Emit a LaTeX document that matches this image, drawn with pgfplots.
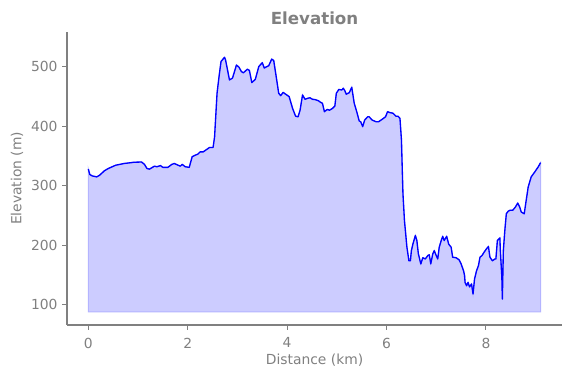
\documentclass[border=0pt]{standalone}
\usepackage{fontspec}
\setmainfont{DejaVu Sans}
\usepackage{pgfplots}
\pgfplotsset{compat=1.18}
\definecolor{txtgray}{RGB}{128,128,128}
\definecolor{fillc}{RGB}{204,204,255}
\definecolor{edgec}{RGB}{180,180,255}
\definecolor{linec}{RGB}{0,0,255}
\begin{document}
\begin{tikzpicture}
\begin{axis}[
  at={(50.25pt,39.75pt)}, anchor=south west,
  scale only axis, width=371.25pt, height=219.5pt,
  xmin=-0.429, xmax=9.53, ymin=66, ymax=558,
  axis x line*=bottom, axis y line*=left,
  axis line style={txtgray, line width=0.8pt, -},
  xtick={0,2,4,6,8}, ytick={100,200,300,400,500},
  tick align=outside, major tick length=3.6pt,
  tick style={txtgray, line width=0.8pt},
  ticklabel style={font=\fontsize{10.4}{12}\selectfont, text=txtgray},
  xticklabel style={yshift=-2.5pt},
  /pgf/number format/assume math mode=true,
]
\addplot[fill=fillc, draw=edgec, line width=0.8pt] coordinates {
(0,88)
(0,328) (0.03,319) (0.08,316.6) (0.17,315) (0.23,318) (0.32,325) (0.40,329) (0.55,334.6) (0.72,337.5) (0.82,338.5) (0.92,339.6) (1.07,340) (1.13,336) (1.18,329) (1.23,328) (1.33,333) (1.38,332) (1.45,334) (1.50,331) (1.60,331) (1.68,336) (1.73,337.5)
(1.85,333) (1.89,336) (1.95,332) (2.03,331) (2.09,349) (2.15,351.5) (2.20,353) (2.25,357) (2.31,357) (2.38,361) (2.44,364.5) (2.51,364.5) (2.54,382) (2.59,455.6) (2.63,483.7) (2.67,509) (2.74,516) (2.76,512) (2.80,495) (2.84,478) (2.90,481) (2.93,489) (2.98,503) (3.03,499.5) (3.08,492) (3.12,490)
(3.20,496) (3.24,494) (3.29,473.5) (3.36,479) (3.43,500.5) (3.50,507) (3.54,498) (3.63,502) (3.69,513) (3.73,510.6) (3.79,478) (3.83,455.6) (3.87,451.6) (3.92,457) (3.97,454) (4.04,450) (4.11,430) (4.17,417) (4.22,416) (4.26,427) (4.31,452.7) (4.36,445.4) (4.41,447) (4.46,448) (4.51,445.4) (4.56,445) (4.63,443)
(4.66,441) (4.71,438.7) (4.75,424.6) (4.81,428.5) (4.85,427) (4.91,430) (4.96,434) (4.99,455.6) (5.04,462) (5.10,461) (5.13,464) (5.16,460) (5.19,454) (5.25,456.6) (5.30,465.7) (5.35,438.7) (5.40,424.6) (5.45,409) (5.48,407.7) (5.52,399.5) (5.56,410.5) (5.62,416) (5.65,416) (5.71,410.5) (5.79,407.7) (5.84,407.7) (5.91,411.7) (5.98,416) (6.02,424.6) (6.07,423) (6.13,422) (6.19,417)
(6.23,417) (6.27,413.4) (6.30,377) (6.33,287) (6.36,242) (6.41,196.7) (6.45,174) (6.48,174) (6.50,191) (6.53,202) (6.58,216.5) (6.61,208) (6.64,185.6) (6.69,168.7) (6.73,179) (6.78,177) (6.83,182.7) (6.86,184) (6.89,168.7) (6.93,185.6) (6.96,191) (7.00,182.7) (7.03,177) (7.06,196.7) (7.10,208) (7.13,215) (7.16,208) (7.21,215) (7.25,202) (7.30,196.7) (7.33,180) (7.40,179) (7.46,175.6) (7.50,168.7) (7.55,157)
(7.57,149) (7.58,137.6) (7.61,132) (7.64,137.6) (7.67,130) (7.71,135) (7.74,118) (7.77,143) (7.81,157) (7.85,166) (7.88,180) (7.92,182.7) (7.96,188) (8.01,194) (8.05,198) (8.08,180) (8.13,174) (8.18,177) (8.20,177) (8.23,208) (8.28,212.5) (8.29,191) (8.32,146) (8.33,109.5) (8.35,191) (8.38,225) (8.41,253) (8.45,257.5) (8.49,259) (8.54,259) (8.59,264) (8.64,271) (8.68,264) (8.71,256) (8.77,253) (8.80,270) (8.85,298) (8.91,315) (8.98,323) (9.05,331.6) (9.10,339)
(9.10,88)
} -- cycle;
\addplot[linec, line width=1pt, line join=round] coordinates {
(0,328) (0.03,319) (0.08,316.6) (0.17,315) (0.23,318) (0.32,325) (0.40,329) (0.55,334.6) (0.72,337.5) (0.82,338.5) (0.92,339.6) (1.07,340) (1.13,336) (1.18,329) (1.23,328) (1.33,333) (1.38,332) (1.45,334) (1.50,331) (1.60,331) (1.68,336) (1.73,337.5)
(1.85,333) (1.89,336) (1.95,332) (2.03,331) (2.09,349) (2.15,351.5) (2.20,353) (2.25,357) (2.31,357) (2.38,361) (2.44,364.5) (2.51,364.5) (2.54,382) (2.59,455.6) (2.63,483.7) (2.67,509) (2.74,516) (2.76,512) (2.80,495) (2.84,478) (2.90,481) (2.93,489) (2.98,503) (3.03,499.5) (3.08,492) (3.12,490)
(3.20,496) (3.24,494) (3.29,473.5) (3.36,479) (3.43,500.5) (3.50,507) (3.54,498) (3.63,502) (3.69,513) (3.73,510.6) (3.79,478) (3.83,455.6) (3.87,451.6) (3.92,457) (3.97,454) (4.04,450) (4.11,430) (4.17,417) (4.22,416) (4.26,427) (4.31,452.7) (4.36,445.4) (4.41,447) (4.46,448) (4.51,445.4) (4.56,445) (4.63,443)
(4.66,441) (4.71,438.7) (4.75,424.6) (4.81,428.5) (4.85,427) (4.91,430) (4.96,434) (4.99,455.6) (5.04,462) (5.10,461) (5.13,464) (5.16,460) (5.19,454) (5.25,456.6) (5.30,465.7) (5.35,438.7) (5.40,424.6) (5.45,409) (5.48,407.7) (5.52,399.5) (5.56,410.5) (5.62,416) (5.65,416) (5.71,410.5) (5.79,407.7) (5.84,407.7) (5.91,411.7) (5.98,416) (6.02,424.6) (6.07,423) (6.13,422) (6.19,417)
(6.23,417) (6.27,413.4) (6.30,377) (6.33,287) (6.36,242) (6.41,196.7) (6.45,174) (6.48,174) (6.50,191) (6.53,202) (6.58,216.5) (6.61,208) (6.64,185.6) (6.69,168.7) (6.73,179) (6.78,177) (6.83,182.7) (6.86,184) (6.89,168.7) (6.93,185.6) (6.96,191) (7.00,182.7) (7.03,177) (7.06,196.7) (7.10,208) (7.13,215) (7.16,208) (7.21,215) (7.25,202) (7.30,196.7) (7.33,180) (7.40,179) (7.46,175.6) (7.50,168.7) (7.55,157)
(7.57,149) (7.58,137.6) (7.61,132) (7.64,137.6) (7.67,130) (7.71,135) (7.74,118) (7.77,143) (7.81,157) (7.85,166) (7.88,180) (7.92,182.7) (7.96,188) (8.01,194) (8.05,198) (8.08,180) (8.13,174) (8.18,177) (8.20,177) (8.23,208) (8.28,212.5) (8.29,191) (8.32,146) (8.33,109.5) (8.35,191) (8.38,225) (8.41,253) (8.45,257.5) (8.49,259) (8.54,259) (8.59,264) (8.64,271) (8.68,264) (8.71,256) (8.77,253) (8.80,270) (8.85,298) (8.91,315) (8.98,323) (9.05,331.6) (9.10,339)
};
\end{axis}
\node[text=txtgray, font=\bfseries\fontsize{12.5}{14}\selectfont] at (235.9pt,270pt) {Elevation};
\node[text=txtgray, font=\fontsize{10.4}{12}\selectfont] at (235.9pt,13.5pt) {Distance (km)};
\node[text=txtgray, font=\fontsize{10.4}{12}\selectfont, rotate=90] at (12.75pt,149.7pt) {Elevation (m)};
\useasboundingbox (0,0) rectangle (428.25pt,283.5pt);
\end{tikzpicture}
\end{document}
